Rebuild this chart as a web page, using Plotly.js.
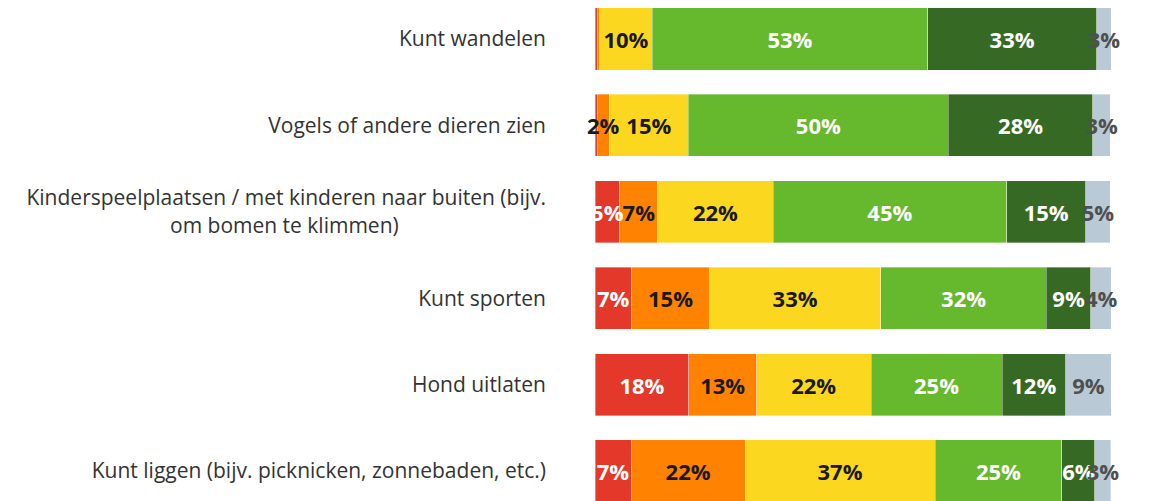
<!DOCTYPE html>
<html>
<head>
<meta charset="utf-8">
<script src="https://cdn.plot.ly/plotly-3.0.1.min.js"></script>
<style>html,body{margin:0;padding:0;background:#fff;}#chart{width:1153px;height:501px;}</style>
</head>
<body>
<div id="chart"></div>
<script>
const NB = "\u00A0";
const categories = [
  "Kunt wandelen",
  "Vogels of andere dieren zien",
  "Kinderspeelplaatsen / met kinderen naar buiten (bijv.<br>om bomen te klimmen)" + NB.repeat(27),
  "Kunt sporten",
  "Hond uitlaten",
  "Kunt liggen (bijv. picknicken, zonnebaden, etc.)"
];
const seriesNames = ["Rood", "Oranje", "Geel", "Groen", "Donkergroen", "Grijs"];
const red       = [0.5, 0.4, 4.8, 7.1, 18.2, 7.0];
const orange    = [0.4, 2.4, 7.4, 15.1, 13.1, 22.1];
const yellow    = [10.2, 15.3, 22.3, 33.2, 22.2, 36.8];
const green     = [53.4, 50.4, 45.3, 32.1, 25.4, 24.6];
const darkgreen = [32.7, 28.0, 15.3, 8.6, 12.3, 6.4];
const grey      = [2.9, 3.4, 4.8, 4.0, 8.9, 3.1];

const seriesValues = [red, orange, yellow, green, darkgreen, grey];
const barColors = ["#E4392A", "#FF8200", "#FCD720", "#66B82D", "#366A24", "#B9CAD6"];
const textColors = ["#ffffff", "#1a1a1a", "#1a1a1a", "#ffffff", "#ffffff", "#4f4f4f"];

const FONT = "Open Sans, Roboto, sans-serif";

// colored bars (no text)
const barTraces = seriesValues.map((vals, i) => ({
  type: "bar",
  orientation: "h",
  name: seriesNames[i],
  y: categories,
  x: vals,
  xaxis: "x",
  yaxis: "y",
  marker: {color: barColors[i], line: {width: 0.6, color: "rgba(255,255,255,0.6)"}},
  hoverinfo: "x+y+name"
}));

// same stacks on an overlaid axis, transparent, carrying the labels so all labels sit above all bars
const labelTraces = seriesValues.map((vals, i) => ({
  type: "bar",
  orientation: "h",
  name: seriesNames[i] + " label",
  y: categories,
  x: vals,
  xaxis: "x2",
  yaxis: "y",
  text: vals.map(v => v >= 1 ? Math.round(v) + "%" : ""),
  textposition: "inside",
  insidetextanchor: "middle",
  textangle: 0,
  constraintext: "none",
  cliponaxis: false,
  textfont: {family: FONT, size: 22, color: textColors[i], weight: 700},
  marker: {color: "rgba(0,0,0,0)", line: {width: 0}},
  hoverinfo: "skip"
}));

const layout = {
  width: 1153,
  height: 501,
  margin: {l: 595, r: 41, t: 0, b: 0},
  barmode: "stack",
  bargap: 0.28,
  showlegend: false,
  paper_bgcolor: "#ffffff",
  plot_bgcolor: "#ffffff",
  font: {family: FONT, color: "#333333"},
  xaxis: {
    range: [0, 100.2],
    showgrid: false,
    zeroline: false,
    showticklabels: false,
    showline: false,
    fixedrange: true
  },
  xaxis2: {
    range: [0, 100.2],
    overlaying: "x",
    visible: false,
    showgrid: false,
    zeroline: false,
    fixedrange: true
  },
  yaxis: {
    type: "category",
    range: [5.347, -0.451],
    showgrid: false,
    zeroline: false,
    showline: false,
    ticks: "",
    ticklabelstandoff: 48,
    tickfont: {family: FONT, size: 21, color: "#333333"},
    fixedrange: true
  }
};

Plotly.newPlot("chart", barTraces.concat(labelTraces), layout, {displayModeBar: false, staticPlot: true});
</script>
</body>
</html>
